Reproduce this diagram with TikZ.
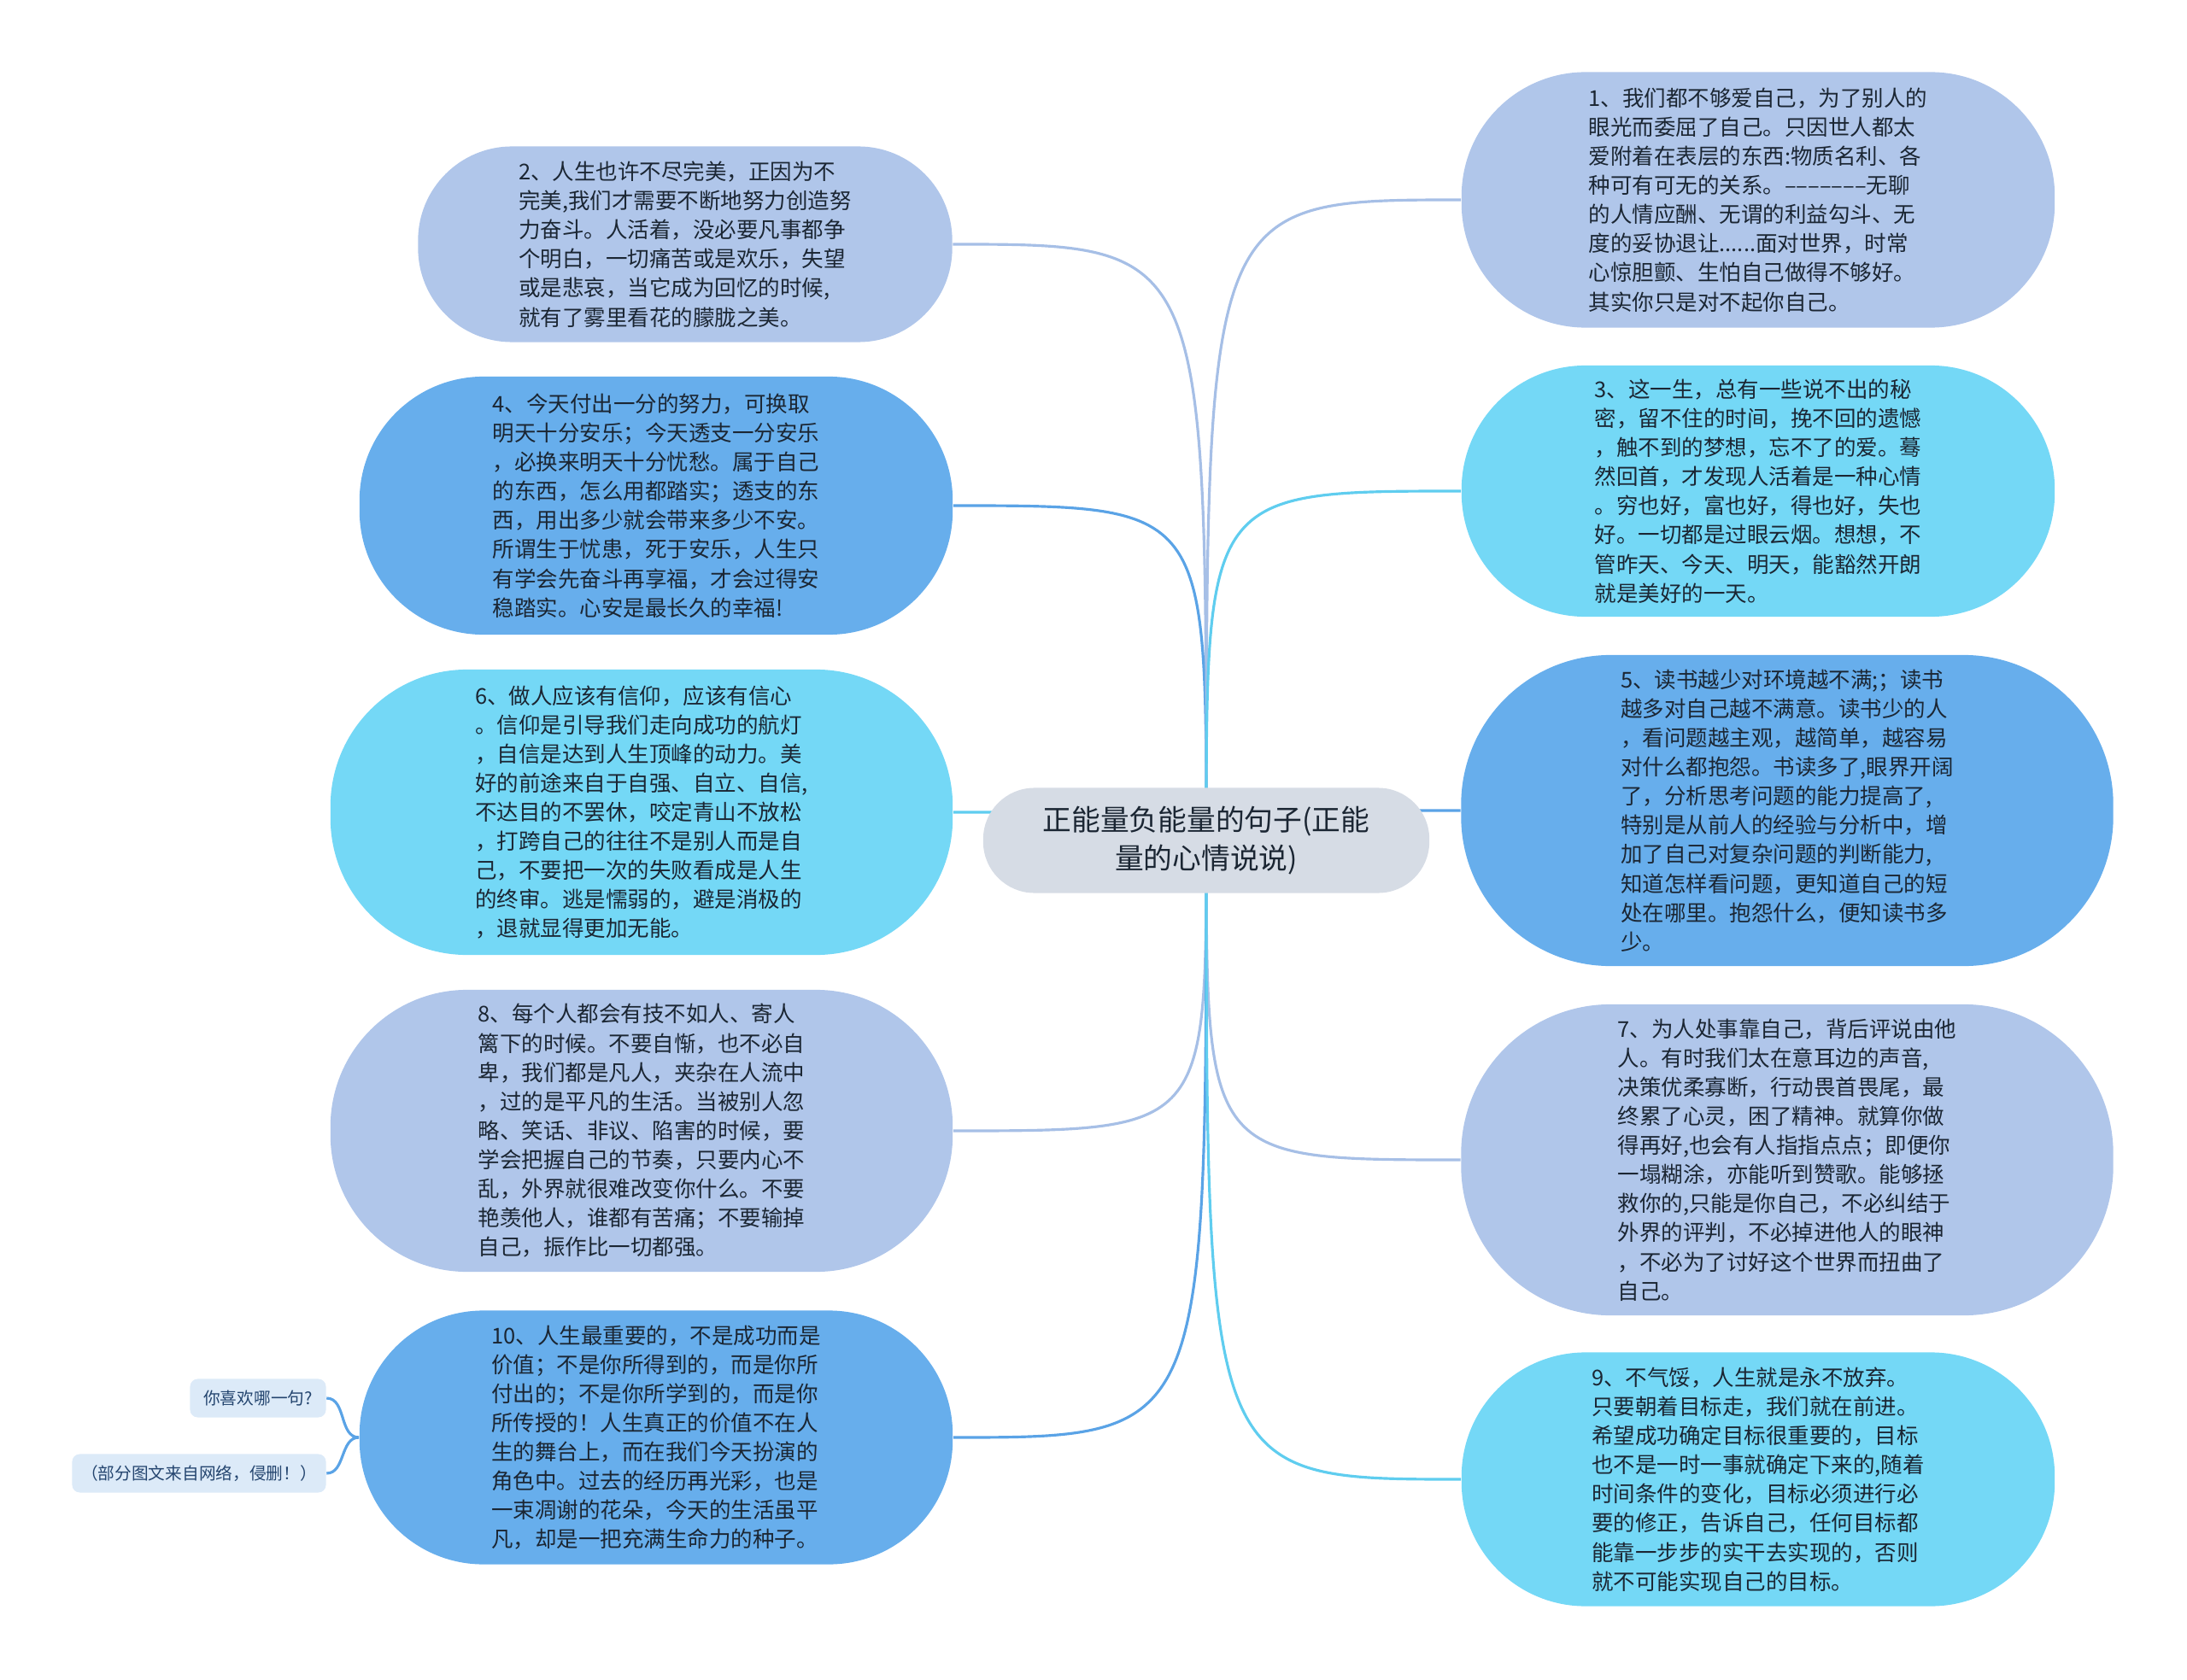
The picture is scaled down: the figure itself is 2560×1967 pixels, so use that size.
\documentclass[tikz,border=0pt]{standalone}
\usepackage{fontspec}
\usepackage{tikz}
\usetikzlibrary{backgrounds}
\newfontfamily\cjk{Noto Sans CJK SC}
\definecolor{mapSoft}{HTML}{B0C6EA}
\definecolor{mapMid}{HTML}{67AEEC}
\definecolor{mapCyan}{HTML}{74D8F6}
\definecolor{mapRoot}{HTML}{D6DCE5}
\definecolor{mapNote}{HTML}{DCEAF8}
\definecolor{mapSoftLine}{HTML}{A6BFE6}
\definecolor{mapMidLine}{HTML}{5AA3E6}
\definecolor{mapCyanLine}{HTML}{5FCDEF}
\definecolor{mapText}{HTML}{1B2633}
\definecolor{mapNoteText}{HTML}{24456F}
\tikzset{
  quotebox/.style={rounded corners=1.45cm, align=left, inner sep=0pt, text=mapText,
    font={\cjk\fontsize{7.25pt}{9.7pt}\selectfont}},
  quotesoft/.style={quotebox, fill=mapSoft},
  quotemid/.style={quotebox, fill=mapMid},
  quotecyan/.style={quotebox, fill=mapCyan},
  rootbox/.style={rounded corners=0.6cm, fill=mapRoot, align=center, text=mapText,
    minimum width=5.22cm, minimum height=1.23cm, font={\cjk\fontsize{9.6pt}{13pt}\selectfont}},
  notebox/.style={rounded corners=0.09cm, fill=mapNote, text=mapNoteText, minimum height=0.45cm,
    inner sep=0pt, font={\cjk\fontsize{5.6pt}{7pt}\selectfont}},
  maplink/.style={line width=0.9pt}
}

\begin{document}
\begin{tikzpicture}[x=0.01cm, y=-0.01cm]
  \useasboundingbox (0,0) rectangle (2560,1967);
  % centre
  \node[rootbox] (root) at (1412,984) {正能量负能量的句子(正能\\量的心情说说)};
  % left column
  \node[quotesoft, minimum width=6.25cm, minimum height=2.29cm, rounded corners=1.1cm] (q2) at (802,286)
    {2、人生也许不尽完美，正因为不\\完美,我们才需要不断地努力创造努\\力奋斗。人活着，没必要凡事都争\\个明白，一切痛苦或是欢乐，失望\\或是悲哀，当它成为回忆的时候,\\就有了雾里看花的朦胧之美。};
  \node[quotemid, minimum width=6.94cm, minimum height=3.02cm] (q4) at (768,592)
    {4、今天付出一分的努力，可换取\\明天十分安乐；今天透支一分安乐\\，必换来明天十分忧愁。属于自己\\的东西，怎么用都踏实；透支的东\\西，用出多少就会带来多少不安。\\所谓生于忧患，死于安乐，人生只\\有学会先奋斗再享福，才会过得安\\稳踏实。心安是最长久的幸福!};
  \node[quotecyan, minimum width=7.28cm, minimum height=3.34cm, rounded corners=1.6cm] (q6) at (751,951)
    {6、做人应该有信仰，应该有信心\\。信仰是引导我们走向成功的航灯\\，自信是达到人生顶峰的动力。美\\好的前途来自于自强、自立、自信,\\不达目的不罢休，咬定青山不放松\\，打跨自己的往往不是别人而是自\\己，不要把一次的失败看成是人生\\的终审。逃是懦弱的，避是消极的\\，退就显得更加无能。};
  \node[quotesoft, minimum width=7.28cm, minimum height=3.30cm, rounded corners=1.6cm] (q8) at (751,1324)
    {8、每个人都会有技不如人、寄人\\篱下的时候。不要自惭，也不必自\\卑，我们都是凡人，夹杂在人流中\\，过的是平凡的生活。当被别人忽\\略、笑话、非议、陷害的时候，要\\学会把握自己的节奏，只要内心不\\乱，外界就很难改变你什么。不要\\艳羡他人，谁都有苦痛；不要输掉\\自己，振作比一切都强。};
  \node[quotemid, minimum width=6.94cm, minimum height=2.97cm] (q10) at (768,1683)
    {10、人生最重要的，不是成功而是\\价值；不是你所得到的，而是你所\\付出的；不是你所学到的，而是你\\所传授的！人生真正的价值不在人\\生的舞台上，而在我们今天扮演的\\角色中。过去的经历再光彩，也是\\一束凋谢的花朵，今天的生活虽平\\凡，却是一把充满生命力的种子。};
  % right column
  \node[quotesoft, minimum width=6.94cm, minimum height=2.99cm] (q1) at (2058,234)
    {1、我们都不够爱自己，为了别人的\\眼光而委屈了自己。只因世人都太\\爱附着在表层的东西:物质名利、各\\种可有可无的关系。–––––––无聊\\的人情应酬、无谓的利益勾斗、无\\度的妥协退让......面对世界，时常\\心惊胆颤、生怕自己做得不够好。\\其实你只是对不起你自己。};
  \node[quotecyan, minimum width=6.94cm, minimum height=2.94cm] (q3) at (2058,575)
    {3、这一生，总有一些说不出的秘\\密，留不住的时间，挽不回的遗憾\\，触不到的梦想，忘不了的爱。蓦\\然回首，才发现人活着是一种心情\\。穷也好，富也好，得也好，失也\\好。一切都是过眼云烟。想想，不\\管昨天、今天、明天，能豁然开朗\\就是美好的一天。};
  \node[quotemid, minimum width=7.63cm, minimum height=3.64cm, rounded corners=1.75cm] (q5) at (2092,949)
    {5、读书越少对环境越不满;；读书\\越多对自己越不满意。读书少的人\\，看问题越主观，越简单，越容易\\对什么都抱怨。书读多了,眼界开阔\\了，分析思考问题的能力提高了,\\特别是从前人的经验与分析中，增\\加了自己对复杂问题的判断能力,\\知道怎样看问题，更知道自己的短\\处在哪里。抱怨什么，便知读书多\\少。};
  \node[quotesoft, minimum width=7.63cm, minimum height=3.64cm, rounded corners=1.75cm] (q7) at (2092,1358)
    {7、为人处事靠自己，背后评说由他\\人。有时我们太在意耳边的声音,\\决策优柔寡断，行动畏首畏尾，最\\终累了心灵，困了精神。就算你做\\得再好,也会有人指指点点；即便你\\一塌糊涂，亦能听到赞歌。能够拯\\救你的,只能是你自己，不必纠结于\\外界的评判，不必掉进他人的眼神\\，不必为了讨好这个世界而扭曲了\\自己。};
  \node[quotecyan, minimum width=6.94cm, minimum height=2.97cm] (q9) at (2058,1732)
    {9、不气馁，人生就是永不放弃。\\只要朝着目标走，我们就在前进。\\希望成功确定目标很重要的，目标\\也不是一时一事就确定下来的,随着\\时间条件的变化，目标必须进行必\\要的修正，告诉自己，任何目标都\\能靠一步步的实干去实现的，否则\\就不可能实现自己的目标。};
  % small notes
  \node[notebox, minimum width=1.59cm] (ask) at (302,1637) {你喜欢哪一句?};
  \node[notebox, minimum width=2.97cm] (credit) at (233,1725) {（部分图文来自网络，侵删！）};
  % links
  \begin{scope}[on background layer]
    \draw[maplink, draw=mapSoftLine] (root.center) .. controls (root.center |- q2.east) .. (q2.east);
    \draw[maplink, draw=mapMidLine] (root.center) .. controls (root.center |- q4.east) .. (q4.east);
    \draw[maplink, draw=mapCyanLine] (root.center) .. controls (root.center |- q6.east) .. (q6.east);
    \draw[maplink, draw=mapSoftLine] (root.center) .. controls (root.center |- q8.east) .. (q8.east);
    \draw[maplink, draw=mapMidLine] (root.center) .. controls (root.center |- q10.east) .. (q10.east);
    \draw[maplink, draw=mapSoftLine] (root.center) .. controls (root.center |- q1.west) .. (q1.west);
    \draw[maplink, draw=mapCyanLine] (root.center) .. controls (root.center |- q3.west) .. (q3.west);
    \draw[maplink, draw=mapMidLine] (root.center) .. controls (root.center |- q5.west) .. (q5.west);
    \draw[maplink, draw=mapSoftLine] (root.center) .. controls (root.center |- q7.west) .. (q7.west);
    \draw[maplink, draw=mapCyanLine] (root.center) .. controls (root.center |- q9.west) .. (q9.west);
  \end{scope}
  \draw[maplink, draw=mapMidLine] (q10.west) to[out=180, in=0] (ask.east);
  \draw[maplink, draw=mapMidLine] (q10.west) to[out=180, in=0] (credit.east);
\end{tikzpicture}
\end{document}
